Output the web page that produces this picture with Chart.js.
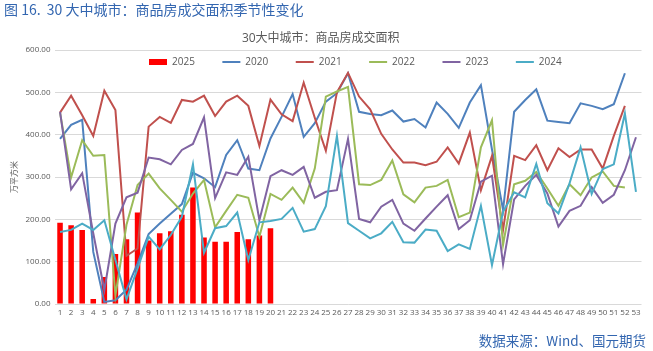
<!DOCTYPE html>
<html><head><meta charset="utf-8">
<script src="https://cdn.jsdelivr.net/npm/chart.js@4/dist/chart.umd.min.js"></script>
<style>
html,body{margin:0;padding:0;background:#fff;overflow:hidden;}
#wrap{position:relative;width:653px;height:351px;}
#c{position:absolute;left:0;top:0;}
.txt{position:absolute;font-family:"Noto Sans CJK SC",sans-serif;font-size:14px;line-height:18px;color:#3366B0;white-space:pre;}
#hdr{left:4px;top:0px;}
#ftr{right:7px;top:331px;font-size:13.5px;}
</style>
</head><body>
<div id="wrap">
<canvas id="c" width="653" height="351"></canvas>
<div id="hdr" class="txt">图 16.  30 大中城市：商品房成交面积季节性变化</div>
<div id="ftr" class="txt">数据来源：Wind、国元期货</div>
</div>
<script>
const weeks = ['1','2','3','4','5','6','7','8','9','10','11','12','13','14','15','16','17','18','19','20','21','22','23','24','25','26','27','28','29','30','31','32','33','34','35','36','37','38','39','40','41','42','43','44','45','46','47','48','49','50','51','52','53'];
const s2025 = [192,186,175,12,64,118,153,216,150,167,172,211,275,157,147,147,170,153,162,179];
const s2020 = [390,423,435,123,5,9,34,96,165,190,213,236,310,297,276,352,387,320,316,391,442,496,395,427,478,498,545,454,449,446,457,431,437,417,476,449,416,476,517,365,222,454,482,507,433,430,427,474,468,460,472,545,null];
const s2021 = [452,492,446,397,504,458,114,131,419,442,428,482,478,492,444,478,492,468,373,483,448,432,523,440,362,500,546,490,460,402,365,334,334,328,336,370,332,405,269,350,175,350,340,375,316,368,347,365,365,320,397,468,null];
const s2022 = [452,299,387,350,352,20,187,281,308,273,246,218,261,293,181,220,258,251,159,260,246,275,239,320,490,502,513,283,281,293,339,259,240,275,279,293,205,216,370,434,140,283,291,312,273,232,283,257,299,313,279,275,null];
const s2023 = [454,271,309,167,33,190,252,263,346,342,330,364,378,441,250,311,305,348,198,302,316,305,324,251,265,269,390,201,193,230,246,190,173,202,230,257,177,198,289,303,94,247,279,305,261,183,220,232,276,239,258,316,394];
const s2024 = [170,175,190,175,198,104,11,84,159,129,163,206,330,121,179,184,216,104,193,196,201,227,171,177,231,397,191,173,155,167,194,146,145,176,173,125,141,130,232,92,218,264,252,331,238,214,285,370,260,319,330,450,265];

Chart.defaults.font.family = '"Open Sans","Noto Sans CJK SC",sans-serif';
Chart.defaults.color = '#595959';

function lineDs(label, data, color, order){
  return {type:'line', label:label, data:data, borderColor:color, backgroundColor:color,
    borderWidth:2, pointRadius:0, pointHoverRadius:0, tension:0, order:order, spanGaps:false};
}

const legendPlace = {
  id:'legendPlace',
  beforeInit(chart){
    const lg = chart.legend;
    const fit = lg.fit;
    lg.fit = function(){ fit.call(this); this.height = 0; };
  },
  afterLayout(chart){
    const lg = chart.legend;
    const pad = 27.5;
    lg.left = 149 - pad;
    lg.right = 653;
    lg.top = 62 - 5 - pad;
    lg.bottom = lg.top + 60;
    lg.width = lg.right - lg.left;
    lg.height = 60;
  }
};

new Chart(document.getElementById('c').getContext('2d'), {
  data:{
    labels:weeks,
    datasets:[
      {type:'bar', label:'2025', data:s2025, backgroundColor:'#FF0000', borderWidth:0,
       barPercentage:0.5, categoryPercentage:1, order:10},
      lineDs('2020', s2020, '#4F81BD', 5),
      lineDs('2021', s2021, '#C0504D', 4),
      lineDs('2022', s2022, '#9BBB59', 3),
      lineDs('2023', s2023, '#8064A2', 2),
      lineDs('2024', s2024, '#4BACC6', 1)
    ]
  },
  options:{
    responsive:false, animation:false, devicePixelRatio:1,
    layout:{padding:{left:0,right:11.5,top:0,bottom:25}},
    plugins:{
      title:{display:true, text:'30大中城市：商品房成交面积', color:'#595959',
        font:{size:12, weight:'normal'}, padding:{top:31.5,bottom:4.1}},
      legend:{display:true, position:'top', align:'start',
        labels:{usePointStyle:true, pointStyleWidth:18, boxHeight:6, padding:27.5, color:'#595959', font:{size:10},
          sort:(a,b)=>a.datasetIndex-b.datasetIndex,
          generateLabels(chart){
            const items = Chart.defaults.plugins.legend.labels.generateLabels(chart);
            items.forEach(it=>{
              const ds = chart.data.datasets[it.datasetIndex];
              if(ds.type==='bar'){ it.pointStyle='rect'; it.lineWidth=0; it.fillStyle=ds.backgroundColor; }
              else { it.pointStyle='line'; it.lineWidth=2; it.strokeStyle=ds.borderColor; it.fillStyle=ds.borderColor; }
            });
            return items;
          }}},
      tooltip:{enabled:false}
    },
    scales:{
      x:{grid:{display:false, drawTicks:false}, border:{display:false},
        ticks:{color:'#595959', font:{size:8}, padding:4, autoSkip:false, maxRotation:0, minRotation:0},
        afterFit(a){ a.height = 22; }},
      y:{min:0, max:600,
        ticks:{stepSize:100, color:'#595959', font:{size:8}, padding:4, callback:v=>Number(v).toFixed(2)},
        grid:{color:'#D9D9D9', drawTicks:false, lineWidth:1}, border:{display:false},
        title:{display:true, text:'万平方米', color:'#595959', font:{size:8}, padding:{top:10,bottom:0}},
        afterFit(a){ a.width = 54.5; }}
    }
  },
  plugins:[legendPlace]
});
</script>
</body></html>
